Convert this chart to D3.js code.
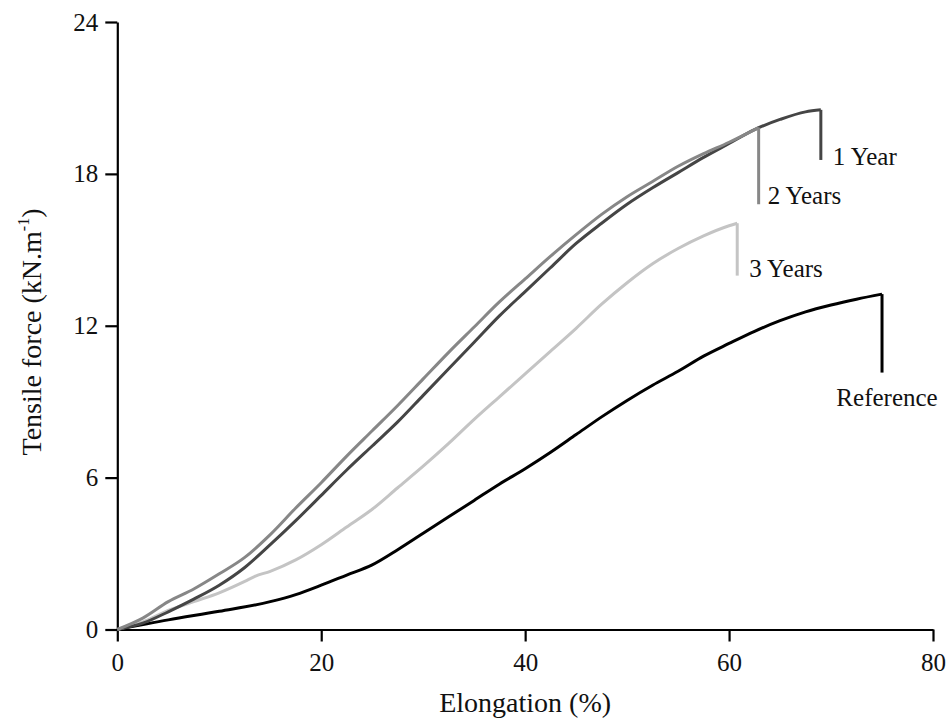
<!DOCTYPE html>
<html>
<head>
<meta charset="utf-8">
<script src="https://cdn.jsdelivr.net/npm/d3@7"></script>
<style>
  body { margin: 0; background: #fff; }
  svg text { font-family: "Liberation Serif", "Times New Roman", serif; fill: #111; }
  .axis path, .axis line { stroke: #000; stroke-width: 2.2px; }
</style>
</head>
<body>
<div id="chart"></div>
<script>
// elongation (%) / tensile force (kN.m-1)
// the last pair of each series is the drop at rupture
const refData = [[0,0],[5,0.38],[10,0.72],[15,1.1],[17.5,1.38],[20,1.75],[22.5,2.15],[25,2.55],[27.5,3.15],
  [30,3.8],[32.5,4.45],[35,5.1],[37.5,5.75],[40,6.35],[42.5,7.0],[45,7.7],[47.5,8.4],[50,9.05],[52.5,9.65],
  [55,10.2],[57.5,10.8],[60,11.3],[62.5,11.78],[65,12.2],[67.5,12.55],[70,12.82],[72.5,13.05],[75,13.25],[75,10.15]];
const oneYear = [[0,0],[2.5,0.25],[5,0.7],[7.5,1.2],[10,1.75],[12.5,2.45],[15,3.35],[17.5,4.3],[20,5.3],[22.5,6.3],
  [25,7.25],[27.5,8.2],[30,9.25],[32.5,10.3],[35,11.35],[37.5,12.4],[40,13.35],[42.5,14.3],[45,15.25],[47.5,16.05],
  [50,16.8],[52.5,17.45],[55,18.05],[57.5,18.65],[60,19.2],[62.5,19.75],[65,20.15],[67.5,20.45],[69,20.53],[69,18.55]];
const twoYears = [[0,0],[2.5,0.45],[5,1.1],[7.5,1.6],[10,2.2],[12.5,2.85],[15,3.75],[17.5,4.8],[20,5.8],[22.5,6.85],
  [25,7.85],[27.5,8.85],[30,9.9],[32.5,10.95],[35,11.95],[37.5,12.95],[40,13.85],[42.5,14.75],[45,15.6],[47.5,16.4],
  [50,17.1],[52.5,17.7],[55,18.3],[57.5,18.8],[60,19.25],[62.9,19.83],[62.9,16.8]];
const threeYears = [[0,0],[2.5,0.3],[5,0.75],[7.5,1.1],[10,1.45],[12.5,1.9],[13.5,2.1],[15,2.3],[17.5,2.75],[20,3.35],
  [22.5,4.05],[25,4.75],[27.5,5.6],[30,6.45],[32.5,7.35],[35,8.3],[37.5,9.2],[40,10.1],[42.5,11.0],[45,11.9],
  [47.5,12.85],[50,13.7],[52.5,14.45],[55,15.05],[57.5,15.55],[60,15.95],[60.8,16.05],[60.8,13.98]];

const series = [
  {name: "Reference", data: refData, color: "#000000"},
  {name: "3 Years", data: threeYears, color: "#c4c4c4"},
  {name: "1 Year", data: oneYear, color: "#454545"},
  {name: "2 Years", data: twoYears, color: "#878787"}
];
const xTicks = [0, 20, 40, 60, 80];
const yTicks = [0, 6, 12, 18, 24];

const width = 949, height = 718;
const margin = {top: 22, right: 16, bottom: 88.5, left: 117.3};

const svg = d3.select("#chart").append("svg")
  .attr("width", width)
  .attr("height", height);

const x = d3.scaleLinear().domain([0, 80]).range([margin.left, width - margin.right]);
const y = d3.scaleLinear().domain([0, 24]).range([height - margin.bottom, margin.top]);

// axes
const xAxis = d3.axisBottom(x).tickValues(xTicks).tickSize(12).tickSizeOuter(0).tickPadding(6);
const yAxis = d3.axisLeft(y).tickValues(yTicks).tickSize(12).tickSizeOuter(0).tickPadding(7);

svg.append("g")
  .attr("class", "x-axis axis")
  .attr("transform", "translate(0," + y(0) + ")")
  .call(xAxis)
  .selectAll("text").attr("font-size", 25).attr("dy", "0.95em");

svg.append("g")
  .attr("class", "y-axis axis")
  .attr("transform", "translate(" + x(0) + ",0)")
  .call(yAxis)
  .selectAll("text").attr("font-size", 25);

svg.selectAll(".axis text").style("font-family", "'Liberation Serif', serif").attr("fill", "#111");

// axis titles
svg.append("text")
  .attr("x", (x(0) + x(80)) / 2)
  .attr("y", 712)
  .attr("text-anchor", "middle")
  .attr("font-size", 28)
  .text("Elongation (%)");

let yTitle = svg.append("text")
  .attr("transform", "translate(41," + 332 + ") rotate(-90)")
  .attr("text-anchor", "middle")
  .attr("font-size", 28);
yTitle.append("tspan").text("Tensile force (kN.m");
yTitle.append("tspan").attr("font-size", 16).attr("dy", -12).text("-1");
yTitle.append("tspan").attr("dy", 12).text(")");

// curves: smooth loading part + straight drop
const smooth = d3.line()
  .x(d => x(d[0]))
  .y(d => y(d[1]))
  .curve(d3.curveMonotoneX);
const straight = d3.line()
  .x(d => x(d[0]))
  .y(d => y(d[1]));

series.forEach(function(s) {
  let n = s.data.length;
  let g = svg.append("g")
    .attr("fill", "none")
    .attr("stroke", s.color)
    .attr("stroke-width", 3)
    .attr("stroke-linejoin", "miter");
  g.append("path").attr("d", smooth(s.data.slice(0, n - 1)));
  g.append("path").attr("d", straight(s.data.slice(n - 2)));
});

// labels next to the rupture drop of each curve
const labelOffsets = {
  "1 Year": {dx: 12, dy: 5, anchor: "start"},
  "2 Years": {dx: 9, dy: 0, anchor: "start"},
  "3 Years": {dx: 12, dy: 1, anchor: "start"},
  "Reference": {dx: 5, dy: 33, anchor: "middle"}
};
series.forEach(function(s) {
  let last = s.data[s.data.length - 1];
  let o = labelOffsets[s.name];
  svg.append("text")
    .attr("x", x(last[0]) + o.dx)
    .attr("y", y(last[1]) + o.dy)
    .attr("text-anchor", o.anchor)
    .attr("font-size", 25)
    .text(s.name);
});
</script>
</body>
</html>
